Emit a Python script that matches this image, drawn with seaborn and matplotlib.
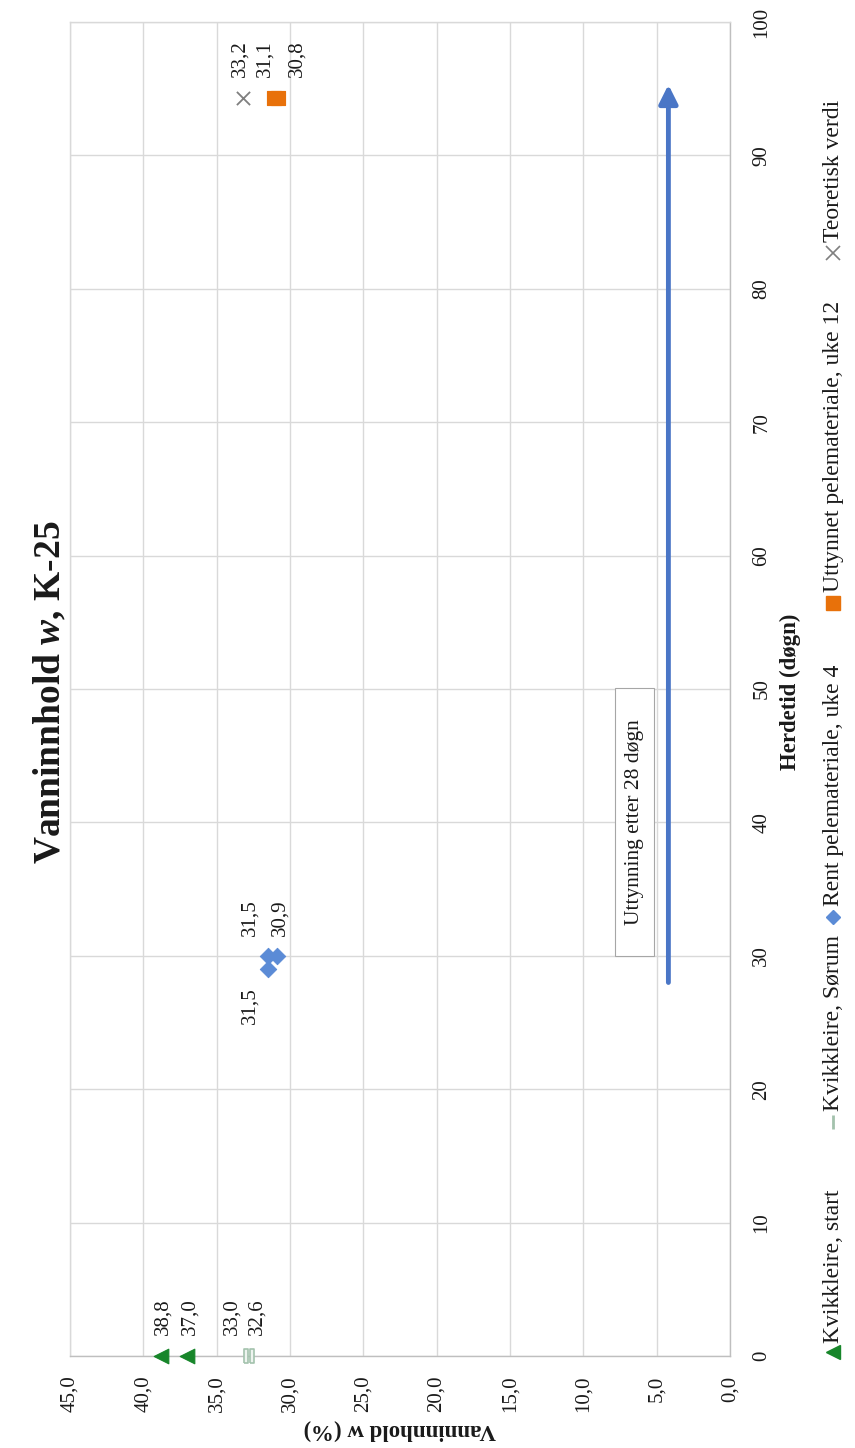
import pandas as pd
import matplotlib
matplotlib.use("Agg")
import matplotlib.pyplot as plt
from matplotlib.lines import Line2D
from matplotlib.patches import Rectangle
import seaborn as sns

# data (Herdetid in døgn, Vanninnhold in %)
start_days = [0, 0]
start_w = [38.8, 37.0]
sorum_days = [0, 0]
sorum_w = [33.0, 32.6]
rent_days = [30, 30, 29]
rent_w = [31.5, 30.9, 31.5]
uttynnet_days = [94.3, 94.3]
uttynnet_w = [31.1, 30.8]
teori_days = [94.3]
teori_w = [33.2]

arrow_w = 4.2
arrow_days = [28, 95.3]

w_ticks = [0, 5, 10, 15, 20, 25, 30, 35, 40, 45]
day_ticks = [0, 10, 20, 30, 40, 50, 60, 70, 80, 90, 100]

legend_labels = ["Kvikkleire, start", "Kvikkleire, Sørum", "Rent pelemateriale, uke 4",
                 "Uttynnet pelemateriale, uke 12", "Teoretisk verdi"]

sns.set_theme(style="white")
plt.rcParams["font.family"] = ["Liberation Serif", "DejaVu Serif"]
plt.rcParams["mathtext.fontset"] = "custom"
plt.rcParams["mathtext.it"] = "Liberation Serif:italic:bold"
plt.rcParams["mathtext.rm"] = "Liberation Serif:bold"

GREEN = "#17862a"
SORUM = "#a3c2ad"
BLUE = "#5b8bd6"
ORANGE = "#e8710a"
GREY = "#7f7f7f"
TXT = "#1a1a1a"

W, H = 855, 1448
fig = plt.figure(figsize=(W / 100, H / 100), dpi=100)
ax = fig.add_axes([70 / W, (H - 1356) / H, 660 / W, 1334 / H])

bar_marker = [(-1, -3.2), (1, -3.2), (1, 3.2), (-1, 3.2), (-1, -3.2)]

series = [
    (start_w, start_days, dict(marker="<", s=110, color=GREEN, edgecolor=GREEN)),
    (sorum_w, sorum_days, dict(marker=bar_marker, s=110, color="#eef4ef", edgecolor=SORUM, linewidth=1.2)),
    (rent_w, rent_days, dict(marker="D", s=70, color=BLUE, edgecolor=BLUE)),
    (uttynnet_w, uttynnet_days, dict(marker="s", s=110, color=ORANGE, edgecolor=ORANGE)),
    (teori_w, teori_days, dict(marker="x", s=90, color=GREY, linewidth=1.3)),
]
for w, d, kw in series:
    df = pd.DataFrame({"w": w, "d": d})
    sns.scatterplot(data=df, x="w", y="d", ax=ax, legend=False, zorder=4, clip_on=False, **kw)

# arrow for thinning
ax.annotate("", xy=(arrow_w, arrow_days[1]), xytext=(arrow_w, arrow_days[0]),
            arrowprops=dict(arrowstyle="-|>", lw=3.5, color="#4a76c6", mutation_scale=28,
                            shrinkA=0, shrinkB=0), zorder=3)
# note box
box_w = (5.2, 7.85)
box_days = (30, 50.1)
ax.add_patch(Rectangle((box_w[0], box_days[0]), box_w[1] - box_w[0], box_days[1] - box_days[0],
                       fc="white", ec="#a6a6a6", lw=0.8, zorder=5))
ax.text(sum(box_w) / 2, sum(box_days) / 2, "Uttynning etter 28 døgn", rotation=90,
        ha="center", va="center", fontsize=15.5, color=TXT, zorder=6)

# data labels (offsets in points)
def lab(w, d, dx, dy, va="bottom"):
    ax.annotate(f"{w:.1f}".replace(".", ","), (w, d), xytext=(dx, dy), textcoords="offset points",
                rotation=90, ha="center", va=va, fontsize=15, color=TXT, zorder=6)

lab(start_w[0], start_days[0], 1.5, 15)
lab(start_w[1], start_days[1], 2, 15)
lab(sorum_w[0], sorum_days[0], -10, 15)
lab(sorum_w[1], sorum_days[1], 3.5, 15)
lab(rent_w[0], rent_days[0], -13, 14)
lab(rent_w[1], rent_days[1], 2, 14)
lab(rent_w[2], rent_days[2], -13, -13, va="top")
lab(teori_w[0], teori_days[0], -2, 15)
lab(uttynnet_w[0], uttynnet_days[0], -6.5, 15)
lab(uttynnet_w[1], uttynnet_days[1], 13.5, 15)

ax.set_xlim(45, 0)
ax.set_ylim(0, 100)
ax.set_xticks(w_ticks)
ax.set_xticklabels([f"{v:.1f}".replace(".", ",") for v in w_ticks], rotation=90,
                   fontsize=15, color=TXT)
ax.yaxis.tick_right()
ax.set_yticks(day_ticks)
ax.set_yticklabels([str(v) for v in day_ticks], rotation=90, fontsize=15, color=TXT, va="center")
ax.tick_params(axis="x", length=0, pad=14)
ax.tick_params(axis="y", length=0, pad=16)
ax.grid(True, color="#d9d9d9", lw=1)
for sp in ax.spines.values():
    sp.set_color("#d9d9d9")
    sp.set_linewidth(1)
ax.spines["right"].set_color("#bfbfbf")
ax.spines["bottom"].set_color("#bfbfbf")
ax.set_xlabel("")
ax.set_ylabel("")

# title and axis titles (page is turned)
fig.text(50 / W, 1 - 692 / H, r"Vanninnhold $\mathit{w}$, K-25", rotation=90, ha="center", va="center",
         fontsize=27, fontweight="bold", color=TXT)
fig.text(790 / W, 1 - 692 / H, "Herdetid (døgn)", rotation=90, ha="center", va="center",
         fontsize=16.5, fontweight="bold", color=TXT)
fig.text(400 / W, 1 - 1430 / H, "Vanninnhold w (%)", rotation=180, ha="center", va="center",
         fontsize=16.5, fontweight="bold", color=TXT)

# legend, drawn turned
leg_x = 833 / W
leg_marker_y = [1352, 1122, 917, 603, 253]
leg_text_y = [1343, 1111, 906, 592, 242]
leg_style = [
    dict(marker="<", markersize=10, color=GREEN),
    dict(marker="|", markersize=10, color=SORUM, markeredgewidth=2),
    dict(marker="D", markersize=7, color=BLUE),
    dict(marker="s", markersize=10, color=ORANGE),
    dict(marker="x", markersize=10, color=GREY, markeredgewidth=1.2),
]
for lbl, my, ty, st in zip(legend_labels, leg_marker_y, leg_text_y, leg_style):
    fig.add_artist(Line2D([leg_x], [1 - my / H], transform=fig.transFigure, linestyle="none", **st))
    fig.text(leg_x, 1 - ty / H, lbl, rotation=90, ha="center", va="bottom", fontsize=17, color=TXT)

fig.savefig("out.png", dpi=100)
